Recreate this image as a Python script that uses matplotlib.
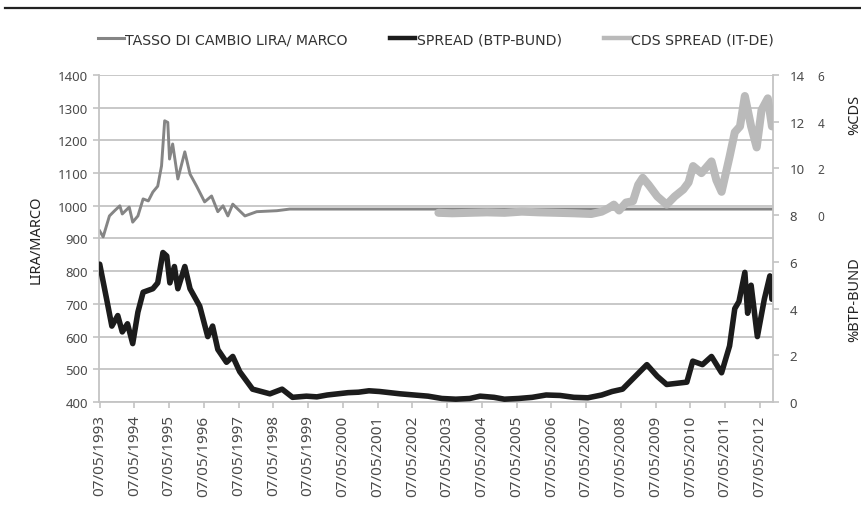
import numpy as np
import matplotlib
matplotlib.use("Agg")
import matplotlib.pyplot as plt
from matplotlib.lines import Line2D

# time in fractional years (07/05 of each year ~ .35)
lira_t = [1993.35, 1993.45, 1993.63, 1993.78, 1993.93, 1994.0, 1994.2, 1994.3, 1994.45, 1994.6,
          1994.75, 1994.88, 1995.02, 1995.13, 1995.22, 1995.31, 1995.36, 1995.45, 1995.6, 1995.8,
          1995.95, 1996.14, 1996.37, 1996.57, 1996.75, 1996.9, 1997.04, 1997.18, 1997.53, 1997.87,
          1998.45, 1998.82, 1999.0, 2012.72]
lira = [923, 905, 969, 985, 1000, 975, 996, 950, 969, 1021,
        1015, 1042, 1060, 1122, 1260, 1255, 1143, 1189, 1082, 1165,
        1097, 1060, 1012, 1030, 982, 1000, 969, 1005, 969, 982,
        985, 990, 990, 990]

spread_t = [1993.35, 1993.55, 1993.7, 1993.87, 1994.0, 1994.15, 1994.3, 1994.45, 1994.6, 1994.88,
            1995.02, 1995.17, 1995.28, 1995.37, 1995.5, 1995.6, 1995.8, 1995.95, 1996.23, 1996.46,
            1996.6, 1996.75, 1997.0, 1997.18, 1997.38, 1997.75, 1998.25, 1998.6, 1998.9, 1999.3,
            1999.6, 1999.9, 2000.2, 2000.5, 2000.8, 2001.1, 2001.4, 2001.7, 2002.0, 2002.4,
            2002.8, 2003.2, 2003.6, 2004.0, 2004.3, 2004.7, 2005.0, 2005.4, 2005.8, 2006.2,
            2006.6, 2007.0, 2007.4, 2007.8, 2008.1, 2008.4, 2008.7, 2009.1, 2009.4, 2009.67,
            2010.25, 2010.42, 2010.7, 2010.96, 2011.25, 2011.48, 2011.63, 2011.75, 2011.92, 2012.0,
            2012.1, 2012.28, 2012.48, 2012.64, 2012.7]
spread = [5.9, 4.4, 3.25, 3.7, 3.0, 3.35, 2.5, 3.85, 4.7, 4.85,
          5.1, 6.4, 6.25, 5.1, 5.8, 4.85, 5.8, 4.85, 4.1, 2.8,
          3.25, 2.25, 1.7, 1.95, 1.3, 0.55, 0.35, 0.55, 0.2, 0.25,
          0.22, 0.3, 0.35, 0.4, 0.42, 0.48, 0.45, 0.4, 0.35, 0.3,
          0.25, 0.15, 0.12, 0.15, 0.25, 0.2, 0.12, 0.15, 0.2, 0.3,
          0.28, 0.2, 0.18, 0.3, 0.45, 0.55, 1.0, 1.6, 1.1, 0.75,
          0.85, 1.75, 1.6, 1.95, 1.25, 2.4, 4.0, 4.3, 5.55, 3.8,
          5.0, 2.8, 4.4, 5.4, 4.4]

cds_t = [2003.1, 2003.5, 2004.0, 2004.5, 2005.0, 2005.5, 2006.0, 2006.5, 2007.0, 2007.5,
         2007.8, 2008.0, 2008.15, 2008.3, 2008.5, 2008.7, 2008.85, 2008.98, 2009.15, 2009.4,
         2009.67, 2009.9, 2010.15, 2010.3, 2010.43, 2010.67, 2010.96, 2011.1, 2011.25, 2011.48,
         2011.63, 2011.78, 2011.92, 2012.1, 2012.26, 2012.4, 2012.58, 2012.7]
cds = [0.1, 0.08, 0.1, 0.12, 0.1, 0.15, 0.12, 0.1, 0.08, 0.05,
       0.15, 0.3, 0.45, 0.2, 0.54, 0.6, 1.3, 1.6, 1.3, 0.8,
       0.45, 0.8, 1.1, 1.4, 2.1, 1.8, 2.3, 1.5, 1.0, 2.5,
       3.55, 3.8, 5.1, 3.8, 2.9, 4.5, 5.0, 3.8]

years = list(range(1993, 2013))
xtick_labels = ["07/05/%d" % y for y in years]

c_lira = "#858585"
c_spread = "#1c1c1c"
c_cds = "#bababa"
c_axis = "#c4c4c4"
c_text = "#4a4a4a"

fig = plt.figure(figsize=(8.62, 5.06), dpi=100)
ax = fig.add_axes([99/862, 1-403/506, (773-99)/862, (403-76)/506])
ax2 = ax.twinx()
ax3 = ax.twinx()

ax.plot(lira_t, lira, color=c_lira, lw=2.1, solid_joinstyle="round")
ax2.plot(spread_t, spread, color=c_spread, lw=4.0, solid_joinstyle="round", solid_capstyle="round")
ax3.plot(cds_t, cds, color=c_cds, lw=5.8, solid_joinstyle="round", solid_capstyle="round")

ax.set_ylim(400, 1400)
ax.set_yticks(range(400, 1401, 100))
ax2.set_ylim(0, 14)
ax2.set_yticks(range(0, 15, 2))
ax3.set_ylim(-8, 6)
ax3.set_yticks([0, 2, 4, 6])
ax.set_xlim(1993.33, 2012.73)
ax.set_xticks([y + 0.35 for y in years])
ax.set_xticklabels(xtick_labels, rotation=90)

ax.grid(axis="y", color=c_axis, lw=1.3)
ax.set_axisbelow(True)

for a in (ax, ax2, ax3):
    for s in a.spines.values():
        s.set_visible(False)
ax.spines["left"].set_visible(True)
ax.spines["left"].set_color(c_axis)
ax.spines["bottom"].set_visible(True)
ax.spines["bottom"].set_color(c_axis)
ax2.spines["right"].set_visible(True)
ax2.spines["right"].set_color(c_axis)
for s in ("left", "bottom"):
    ax.spines[s].set_linewidth(1.3)
ax2.spines["right"].set_linewidth(1.3)

ax.tick_params(axis="both", colors=c_axis, labelcolor=c_text, length=4, width=1.2, labelsize=9.5)
ax.tick_params(axis="y", pad=4)
ax.tick_params(axis="x", pad=5, labelsize=11)
ax2.tick_params(axis="y", colors=c_axis, labelcolor=c_text, length=4, width=1.2, labelsize=9.5, pad=8)
ax3.tick_params(axis="y", length=0, labelcolor=c_text, labelsize=8.5, pad=32)
for lab in ax.get_xticklabels() + ax.get_yticklabels() + ax2.get_yticklabels() + ax3.get_yticklabels():
    lab.set_family("Noto Sans")

ax.set_ylabel("LIRA/MARCO", family="Noto Sans", fontsize=10.5, color="#222222", labelpad=10)
fig.text(855/862, 1-115/506, "%CDS", rotation=90, ha="center", va="center",
         family="Noto Sans", fontsize=10.5, color="#222222")
fig.text(855/862, 1-300/506, "%BTP-BUND", rotation=90, ha="center", va="center",
         family="Noto Sans", fontsize=10.5, color="#222222")

# top rule
fig.add_artist(Line2D([5/862, 1.0], [1-9/506, 1-9/506], color="#222222", lw=1.6))

handles = [Line2D([], [], color=c_lira, lw=2.2),
           Line2D([], [], color=c_spread, lw=3.2),
           Line2D([], [], color=c_cds, lw=3.2)]
labels = ["TASSO DI CAMBIO LIRA/ MARCO", "SPREAD (BTP-BUND)", "CDS SPREAD (IT-DE)"]
fig.legend(handles, labels, loc="center", bbox_to_anchor=(436/862, 1-40/506), ncol=3,
           frameon=False, handlelength=1.8, handletextpad=0.1, columnspacing=3.0,
           prop=dict(family="DejaVu Sans", size=10.2), labelcolor="#333333")

fig.savefig("out.png", dpi=100)
